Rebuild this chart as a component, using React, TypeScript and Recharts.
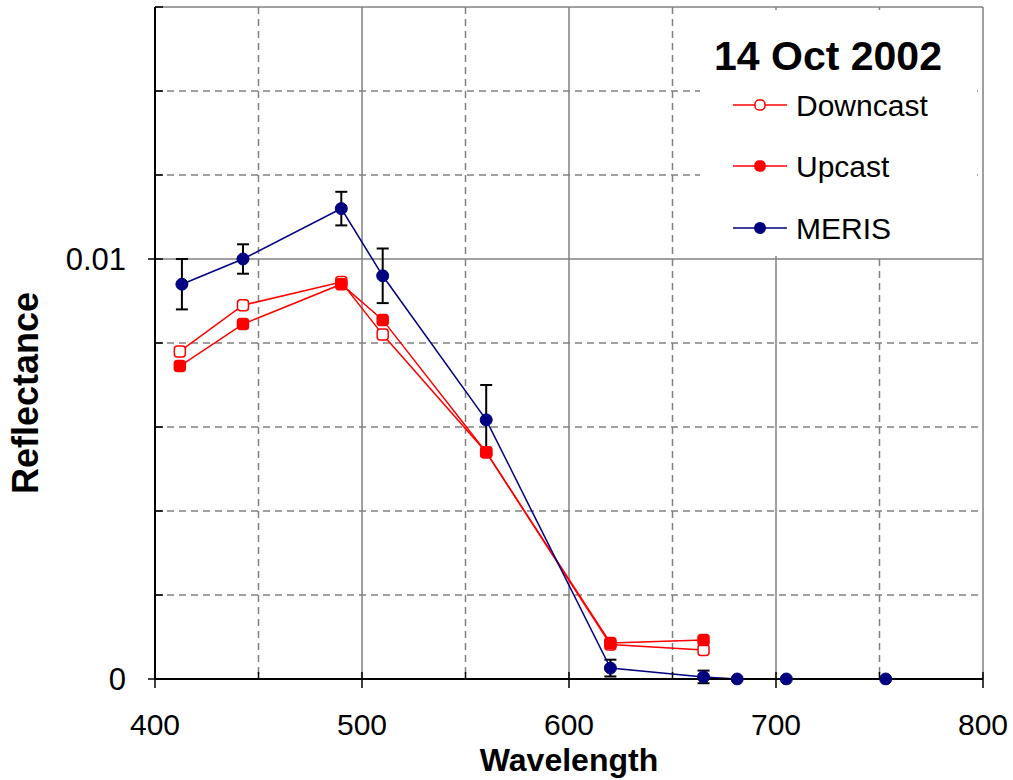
import { LineChart, Line, XAxis, YAxis, CartesianGrid, ErrorBar, Label } from "recharts";

const FONT = "Arial, 'Liberation Sans', sans-serif";

// wavelengths (nm) of the in-water profiles
const RED_WL = [412, 442.5, 490, 510, 560, 620, 665];
const DOWNCAST = [0.0078, 0.0089, 0.00945, 0.0082, 0.0054, 0.00082, 0.00069];
const UPCAST = [0.00745, 0.00845, 0.0094, 0.00855, 0.0054, 0.00086, 0.00093];

// MERIS bands
const MERIS_WL = [413, 442.5, 490, 510, 560, 620, 665, 681.25, 705, 753];
const MERIS = [0.0094, 0.01, 0.0112, 0.0096, 0.00617, 0.00026, 0.00005, 0, 0, 0];
const MERIS_ERR = [0.0006, 0.00035, 0.0004, 0.00065, 0.00083, 0.0002, 0.00015, 0, 0, 0];

const X_TICKS = [400, 450, 500, 550, 600, 650, 700, 750, 800];
const Y_TICKS = [0, 0.002, 0.004, 0.006, 0.008, 0.01, 0.012, 0.014, 0.016];
const X_MAJOR = [500, 600, 700, 800];
const X_MINOR = [450, 550, 650, 750];
const Y_MAJOR = [0.01, 0.016];
const Y_MINOR = [0.002, 0.004, 0.006, 0.008, 0.012, 0.014];

const SERIES = [
  { name: "Downcast", color: "#ff0000", open: true },
  { name: "Upcast", color: "#ff0000", open: false },
  { name: "MERIS", color: "#000080", open: false },
];

const downcastData = RED_WL.map((wl, i) => ({ wl, v: DOWNCAST[i] }));
const upcastData = RED_WL.map((wl, i) => ({ wl, v: UPCAST[i] }));
const merisData = MERIS_WL.map((wl, i) => ({ wl, v: MERIS[i], err: MERIS_ERR[i] }));

const GRID = "#808080";

function XTick(props: any) {
  const { x, y, payload } = props;
  const major = payload.value % 100 === 0;
  return (
    <g>
      <line x1={x} x2={x} y1={y - 7} y2={major ? y + 9 : y} stroke="#000" strokeWidth={1.5} />
      {major && (
        <text x={x} y={y + 56} textAnchor="middle" fontSize={30} fontFamily={FONT} fill="#000">
          {payload.value}
        </text>
      )}
    </g>
  );
}

function YTick(props: any) {
  const { x, y, payload } = props;
  const v = payload.value;
  const major = Math.abs(v) < 1e-9 || Math.abs(v - 0.01) < 1e-9;
  return (
    <g>
      <line x1={major ? x - 7 : x} x2={x + 8} y1={y} y2={y} stroke="#000" strokeWidth={1.5} />
      {major && (
        <text x={x - 29} y={y + 11} textAnchor="end" fontSize={31} fontFamily={FONT} fill="#000">
          {v === 0 ? "0" : "0.01"}
        </text>
      )}
    </g>
  );
}

function redDot(open: boolean) {
  return (p: any) => (
    <rect
      key={`${open ? "d" : "u"}-${p.index}`}
      x={p.cx - 5.5}
      y={p.cy - 5.5}
      width={11}
      height={11}
      rx={3}
      fill={open ? "#ffffff" : "#ff0000"}
      stroke="#ff0000"
      strokeWidth={1.5}
    />
  );
}

function LegendBox() {
  const rows = [105, 166, 228];
  return (
    <svg width={1013} height={780} style={{ position: "absolute", left: 0, top: 0, pointerEvents: "none" }}>
      <rect x={700} y={10} width={277} height={246} fill="#ffffff" />
      <text x={828} y={70} textAnchor="middle" fontSize={41} fontWeight="bold" fontFamily={FONT} fill="#000">
        14 Oct 2002
      </text>
      {SERIES.map((s, i) => (
        <g key={s.name}>
          <line x1={733} x2={787} y1={rows[i]} y2={rows[i]} stroke={s.color} strokeWidth={1.5} />
          {s.color === "#ff0000" ? (
            <rect
              x={755}
              y={rows[i] - 5}
              width={10}
              height={10}
              rx={4}
              fill={s.open ? "#fff" : s.color}
              stroke={s.color}
              strokeWidth={1.5}
            />
          ) : (
            <circle cx={760} cy={rows[i]} r={6} fill={s.color} />
          )}
          <text x={796} y={rows[i] + 11} fontSize={30} fontFamily={FONT} fill="#000">
            {s.name}
          </text>
        </g>
      ))}
    </svg>
  );
}

export default function App() {
  return (
    <div style={{ position: "absolute", left: 0, top: 0, width: 1013, height: 780, background: "#fff" }}>
      <LineChart width={1013} height={780} margin={{ top: 7, right: 30, bottom: 0, left: 0 }}>
        <CartesianGrid
          horizontalValues={Y_MINOR}
          verticalValues={X_MINOR}
          stroke={GRID}
          strokeWidth={1.5}
          strokeDasharray="7 5"
        />
        <CartesianGrid horizontalValues={Y_MAJOR} verticalValues={X_MAJOR} stroke={GRID} strokeWidth={1.5} />
        <XAxis
          type="number"
          dataKey="wl"
          domain={[400, 800]}
          ticks={X_TICKS}
          interval={0}
          height={101}
          tickSize={0}
          tickMargin={0}
          tick={<XTick />}
          axisLine={{ stroke: "#000", strokeWidth: 2 }}
        >
          <Label
            content={(p: any) => {
              const vb = p.viewBox;
              return (
                <text x={vb.x + vb.width / 2} y={vb.y + 92} textAnchor="middle" fontSize={32} fontWeight="bold" fontFamily={FONT} fill="#000">
                  Wavelength
                </text>
              );
            }}
          />
        </XAxis>
        <YAxis
          type="number"
          domain={[0, 0.016]}
          ticks={Y_TICKS}
          interval={0}
          width={155}
          tickSize={0}
          tickMargin={0}
          tick={<YTick />}
          axisLine={{ stroke: "#000", strokeWidth: 2 }}
          allowDataOverflow
        >
          <Label
            content={() => (
              <text
                x={38}
                y={393}
                transform="rotate(-90, 38, 393)"
                textAnchor="middle"
                fontSize={36}
                fontWeight="bold"
                fontFamily={FONT}
                fill="#000"
              >
                Reflectance
              </text>
            )}
          />
        </YAxis>
        <Line
          data={downcastData}
          dataKey="v"
          name="Downcast"
          stroke="#ff0000"
          strokeWidth={1.5}
          dot={redDot(true)}
          isAnimationActive={false}
        />
        <Line
          data={upcastData}
          dataKey="v"
          name="Upcast"
          stroke="#ff0000"
          strokeWidth={1.5}
          dot={redDot(false)}
          isAnimationActive={false}
        />
        <Line
          data={merisData}
          dataKey="v"
          name="MERIS"
          stroke="#000080"
          strokeWidth={1.5}
          dot={{ r: 6, fill: "#000080", stroke: "#000080", strokeWidth: 1, clipDot: false }}
          isAnimationActive={false}
        >
          <ErrorBar dataKey="err" direction="y" width={6} stroke="#000" strokeWidth={2} />
        </Line>
      </LineChart>
      <LegendBox />
    </div>
  );
}
